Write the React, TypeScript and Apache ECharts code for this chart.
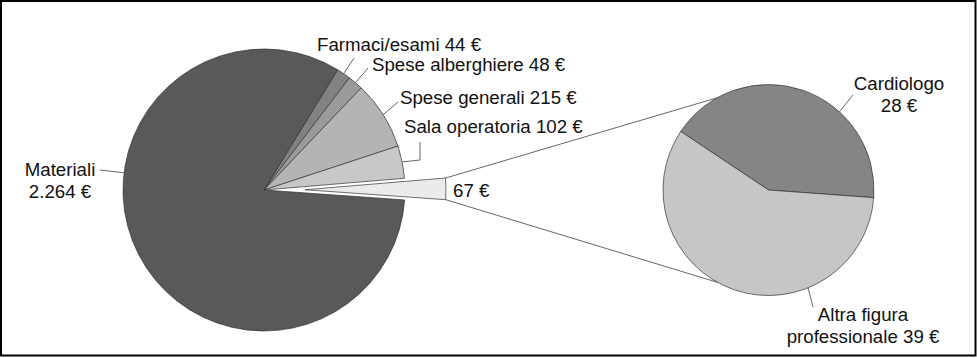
import React, { useEffect, useRef } from "react";
import * as echarts from "echarts";

// ---- data ----
const mainNames = ["Farmaci/esami", "Spese alberghiere", "Spese generali", "Sala operatoria", "Personale", "Materiali"];
const mainValues = [44, 48, 215, 102, 67, 2264];
const subNames = ["Cardiologo", "Altra figura professionale"];
const subValues = [28, 39];

// ---- styles / layout ----
const mainColors = ["#828282", "#9a9a9a", "#b4b4b4", "#c8c8c8", "#ebebeb", "#595959"];
const subColors = ["#858585", "#c6c6c6"];
const FONT = "'Liberation Sans', Arial, Helvetica, sans-serif";
const FONT_SIZE = 18.7;
const C1 = [264, 190];
const R1 = 141;
const START1 = 58.5;
const EXPLODE = 41;
const EXPLODED_INDEX = 4;
const C2 = [768.5, 190];
const R2 = 105.5;
const START2 = 146.3;
const CONNECT_ANGLE = 119;

const fmt = (v: number) => String(v).replace(/\B(?=(\d{3})+(?!\d))/g, ".") + " €";

type LabelCfg = { tx: number; ty: number; align: string; line: number[][]; angle?: number; showName: boolean; br?: boolean };
const mainLabelCfg: LabelCfg[] = [
  { tx: 317, ty: 44, align: "left", line: [[354, 58]], showName: true },
  { tx: 372, ty: 64, align: "left", line: [[368, 68]], showName: true },
  { tx: 400, ty: 97, align: "left", line: [[398, 102]], showName: true },
  { tx: 404, ty: 126, align: "left", line: [[420, 160], [420, 142]], showName: true },
  { tx: 453, ty: 190, align: "left", line: [], showName: false },
  { tx: 60, ty: 180, align: "center", line: [[100, 170]], angle: 173, showName: true, br: true },
];
const subLabelCfg: LabelCfg[] = [
  { tx: 899, ty: 94, align: "center", line: [[853, 95]], angle: 47.8, showName: true, br: true },
  { tx: 863, ty: 325, align: "center", line: [[813, 307]], angle: -68, showName: true, br: true },
];

const rad = (d: number) => (d * Math.PI) / 180;
const pt = (c: number[], r: number, a: number) => [c[0] + r * Math.cos(rad(a)), c[1] - r * Math.sin(rad(a))];

function sliceAngles(values: number[], start: number) {
  const total = values.reduce((s, v) => s + v, 0);
  let a = start;
  return values.map((v) => {
    const a0 = a;
    const a1 = a - (v / total) * 360;
    a = a1;
    return { a0, a1, mid: (a0 + a1) / 2 };
  });
}

function labelText(name: string, value: number, cfg: LabelCfg) {
  if (!cfg.showName) return fmt(value);
  if (!cfg.br) return name + " " + fmt(value);
  const parts = name.split(" ");
  const first = parts.length > 2 ? parts.slice(0, 2).join(" ") : parts[0];
  const rest = parts.length > 2 ? parts.slice(2).join(" ") + " " : parts.length === 2 ? parts[1] + " " : "";
  return first + "\n" + rest + fmt(value);
}

export default function App() {
  const ref = useRef<HTMLDivElement>(null);
  useEffect(() => {
    if (!ref.current) return;
    const chart = echarts.init(ref.current, undefined, { renderer: "svg" });

    const ang1 = sliceAngles(mainValues, START1);
    const ang2 = sliceAngles(subValues, START2);
    const ex = ang1[EXPLODED_INDEX];
    const exC = [C1[0] + EXPLODE * Math.cos(rad(ex.mid)), C1[1] - EXPLODE * Math.sin(rad(ex.mid))];

    const graphics: any[] = [];
    graphics.push({
      type: "rect",
      shape: { x: 1, y: 1, width: 974.5, height: 354.5 },
      style: { fill: "none", stroke: "#000", lineWidth: 2 },
      silent: true,
    });
    const pUp = pt(exC, R1, ex.a0);
    const pDn = pt(exC, R1, ex.a1);
    const qUp = pt(C2, R2, CONNECT_ANGLE);
    const qDn = pt(C2, R2, -CONNECT_ANGLE);
    [[pUp, qUp], [pDn, qDn]].forEach(([p, q]) =>
      graphics.push({
        type: "line",
        shape: { x1: p[0], y1: p[1], x2: q[0], y2: q[1] },
        style: { stroke: "#666", lineWidth: 1 },
        silent: true,
      })
    );

    const addLabels = (names: string[], values: number[], cfgs: LabelCfg[], angs: any[], c: number[], r: number) => {
      names.forEach((name, i) => {
        const cfg = cfgs[i];
        const text = labelText(name, values[i], cfg);
        if (cfg.line.length) {
          const a = cfg.angle !== undefined ? cfg.angle : angs[i].mid;
          const start = pt(c, r, a);
          graphics.push({
            type: "polyline",
            shape: { points: [start, ...cfg.line] },
            style: { stroke: "#666", lineWidth: 1, fill: "none" },
            silent: true,
          });
        }
        graphics.push({
          type: "text",
          x: cfg.tx,
          y: cfg.ty,
          style: {
            text,
            fill: "#111",
            fontSize: FONT_SIZE,
            fontFamily: FONT,
            align: cfg.align,
            verticalAlign: "middle",
            lineHeight: 22,
          },
          silent: true,
        });
      });
    };
    addLabels(mainNames, mainValues, mainLabelCfg, ang1, C1, R1);
    addLabels(subNames, subValues, subLabelCfg, ang2, C2, R2);

    chart.setOption({
      animation: false,
      backgroundColor: "#fff",
      series: [
        {
          type: "pie",
          center: C1,
          radius: R1,
          startAngle: START1,
          clockwise: true,
          selectedMode: "single",
          selectedOffset: EXPLODE,
          avoidLabelOverlap: false,
          label: { show: false },
          labelLine: { show: false },
          emphasis: { disabled: true },
          silent: true,
          itemStyle: { borderColor: "#333", borderWidth: 0.7 },
          data: mainNames.map((n, i) => ({
            name: n,
            value: mainValues[i],
            selected: i === EXPLODED_INDEX,
            itemStyle: { color: mainColors[i] },
            select: { itemStyle: { color: mainColors[i], borderColor: "#333", borderWidth: 0.7 } },
          })),
        },
        {
          type: "pie",
          center: C2,
          radius: R2,
          startAngle: START2,
          clockwise: true,
          label: { show: false },
          labelLine: { show: false },
          emphasis: { disabled: true },
          silent: true,
          itemStyle: { borderColor: "#333", borderWidth: 0.7 },
          data: subNames.map((n, i) => ({ name: n, value: subValues[i], itemStyle: { color: subColors[i] } })),
        },
      ],
      graphic: { elements: graphics },
    });
    return () => chart.dispose();
  }, []);
  return <div ref={ref} style={{ position: "absolute", left: 0, top: 0, width: 977, height: 358 }} />;
}
